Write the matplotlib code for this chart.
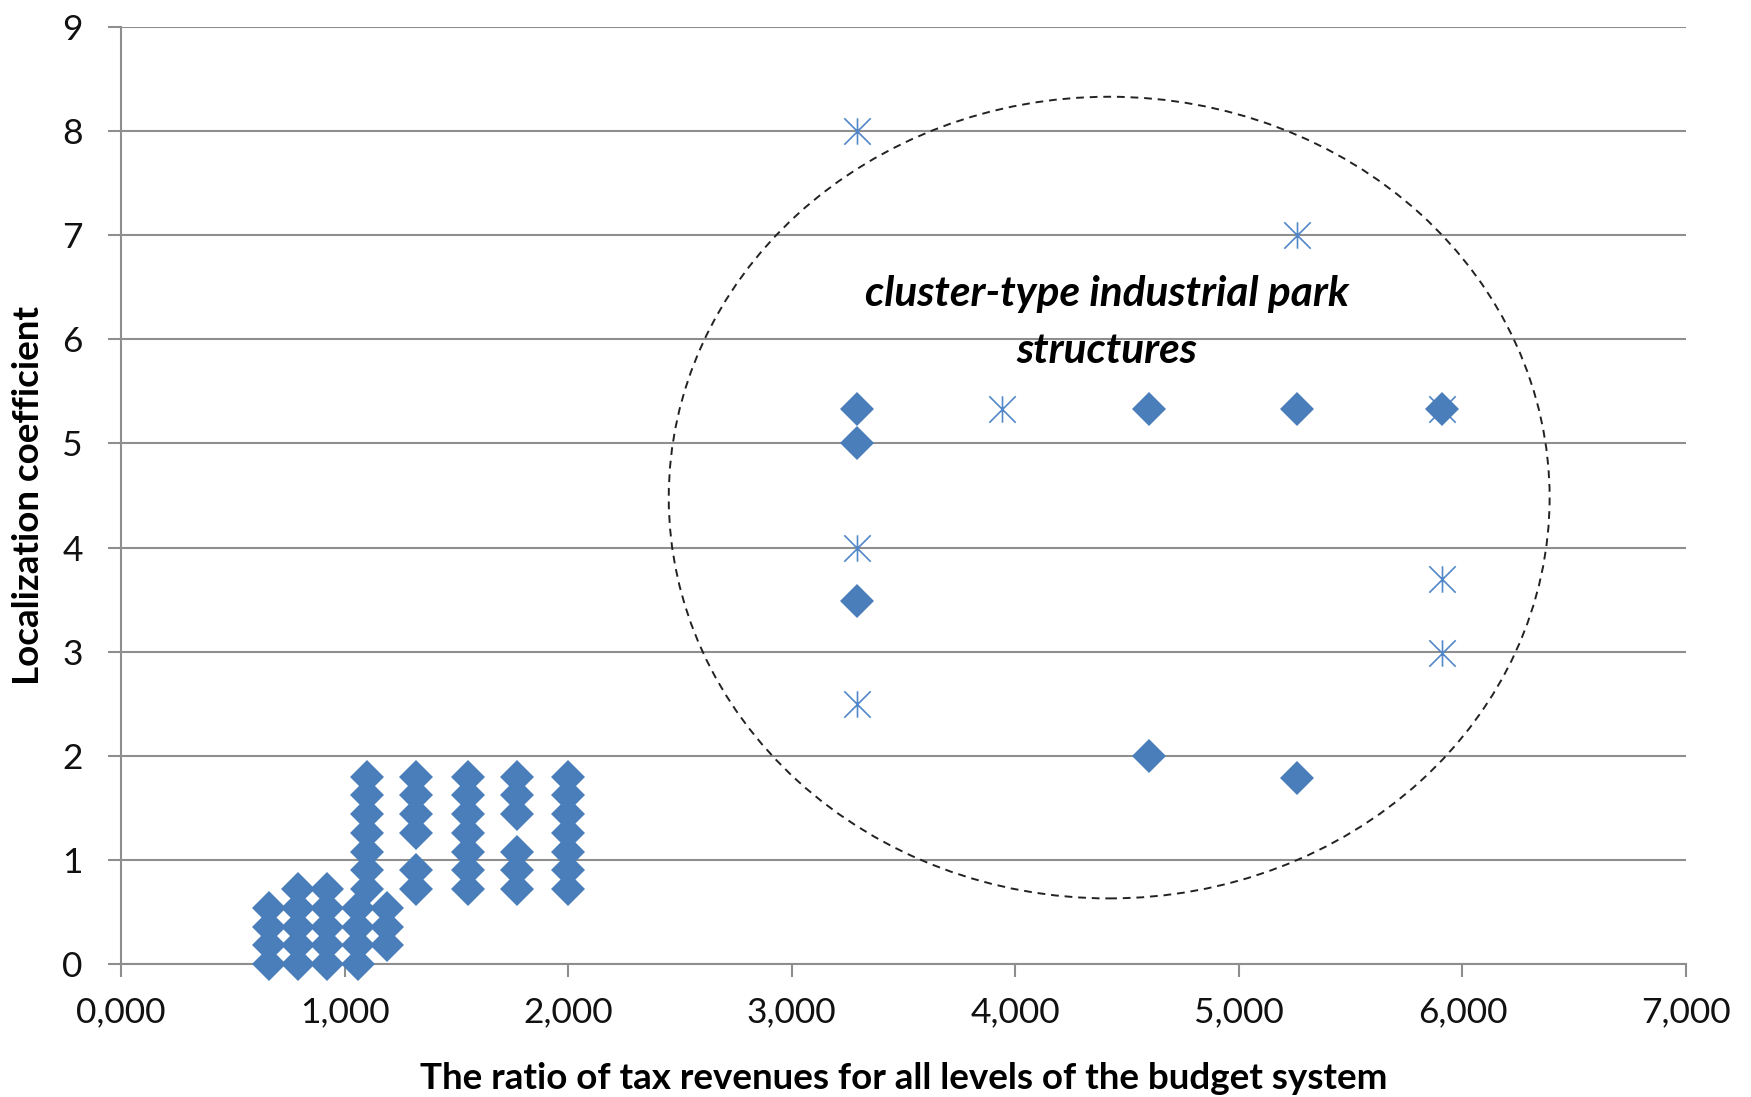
import matplotlib
matplotlib.use("Agg")
import matplotlib.pyplot as plt
from matplotlib.patches import Ellipse
from matplotlib.path import Path
from matplotlib.ticker import FuncFormatter

plt.rcParams['font.family'] = ['Lato', 'DejaVu Sans']

# ---- data ----
# small cluster of diamonds (lower-left)
cluster_x = ([0.66] * 4 + [0.79] * 5 + [0.92] * 5 + [1.06] * 4 + [1.10] * 7 +
             [1.19] * 3 + [1.32] * 6 + [1.55] * 7 + [1.77] * 6 + [2.00] * 7)
cluster_y = ([0.00, 0.18, 0.36, 0.54] +
             [0.00, 0.18, 0.36, 0.54, 0.72] +
             [0.00, 0.18, 0.36, 0.54, 0.72] +
             [0.00, 0.18, 0.36, 0.54] +
             [0.72, 0.90, 1.08, 1.26, 1.44, 1.62, 1.80] +
             [0.18, 0.36, 0.54] +
             [0.72, 0.90, 1.26, 1.44, 1.62, 1.80] +
             [0.72, 0.90, 1.08, 1.26, 1.44, 1.62, 1.80] +
             [0.72, 0.90, 1.08, 1.44, 1.62, 1.80] +
             [0.72, 0.90, 1.08, 1.26, 1.44, 1.62, 1.80])

# diamonds inside the cluster-type ellipse
park_diamond_x = [3.29, 3.29, 3.29, 4.60, 4.60, 5.26, 5.26, 5.91]
park_diamond_y = [5.33, 5.00, 3.49, 5.33, 2.00, 5.33, 1.79, 5.33]

# star (asterisk) markers
star_x = [3.29, 3.29, 3.29, 3.94, 5.26, 5.91, 5.91, 5.91]
star_y = [8.00, 4.00, 2.50, 5.33, 7.00, 5.33, 3.70, 2.99]

x_ticks = [0, 1, 2, 3, 4, 5, 6, 7]
y_ticks = [0, 1, 2, 3, 4, 5, 6, 7, 8, 9]

annotation = "cluster-type industrial park\nstructures"
xlabel = "The ratio of tax revenues for all levels of the budget system"
ylabel = "Localization coefficient"

# ---- styling ----
blue = '#4A7EBB'
grid_col = '#8E8E8E'

fig = plt.figure(figsize=(17.51, 10.97), dpi=100)
ax = fig.add_axes([121 / 1751, 1 - 964 / 1097, (1686 - 121) / 1751, (964 - 27) / 1097])

ax.set_xlim(0, 7)
ax.set_ylim(0, 9)
ax.set_xticks(x_ticks)
ax.set_yticks(y_ticks)
ax.xaxis.set_major_formatter(FuncFormatter(lambda v, p: f"{v:.3f}".replace('.', ',')))

ax.grid(axis='y', color=grid_col, lw=1.5, zorder=0)
ax.set_axisbelow(True)
for s in ['top', 'right']:
    ax.spines[s].set_visible(False)
for s in ['left', 'bottom']:
    ax.spines[s].set_color(grid_col)
    ax.spines[s].set_linewidth(1.5)
ax.tick_params(axis='both', direction='out', length=9.5, width=1.5, color=grid_col,
               labelsize=25.5, labelcolor='#111111')
ax.tick_params(axis='x', pad=14)
ax.tick_params(axis='y', pad=18)

ax.plot(cluster_x, cluster_y, linestyle='none', marker='D', markersize=17,
        color=blue, markeredgewidth=0, zorder=3, clip_on=False)
star = Path([(-1, -1), (1, 1), (-1, 1), (1, -1), (0, -1), (0, 1)],
            [Path.MOVETO, Path.LINETO, Path.MOVETO, Path.LINETO, Path.MOVETO, Path.LINETO])
ax.plot(star_x, star_y, linestyle='none', marker=star, markersize=19,
        markerfacecolor='none', markeredgecolor='#5287C8', markeredgewidth=1.2, zorder=3)
ax.plot(park_diamond_x, park_diamond_y, linestyle='none', marker='D', markersize=17,
        color=blue, markeredgewidth=0, zorder=4)

ell = Ellipse((4.42, 4.48), 3.94, 7.70, fill=False, edgecolor='#222222', lw=1.4,
              linestyle=(0, (4, 3)), zorder=2)
ax.add_patch(ell)

ax.text(4.41, 6.16, annotation, ha='center', va='center', fontsize=30.5,
        fontweight='bold', fontstyle='italic', linespacing=1.62, color='#000000', zorder=5)

ax.set_xlabel(xlabel, fontsize=26.5, fontweight='bold')
ax.set_ylabel(ylabel, fontsize=26.5, fontweight='bold')
ax.xaxis.set_label_coords(0.5, -0.122)
ax.xaxis.label.set_va('center')
ax.yaxis.set_label_coords(-0.0594, 0.5)
ax.yaxis.label.set_va('center')

fig.savefig('out.png', dpi=100)
